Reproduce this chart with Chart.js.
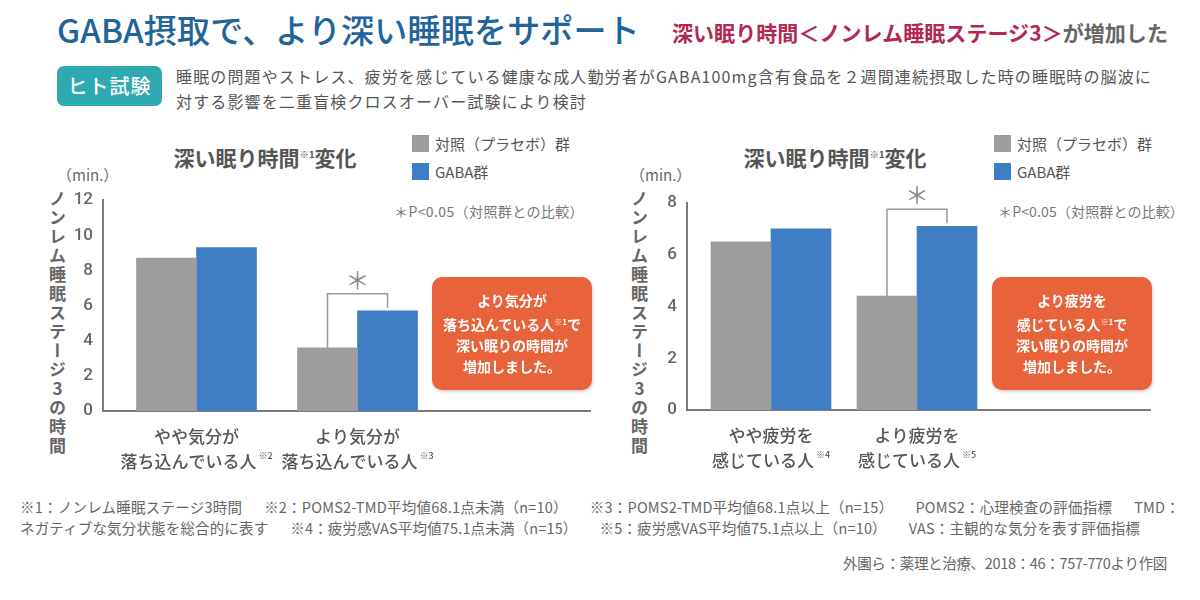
<!DOCTYPE html>
<html><head><meta charset="utf-8">
<script src="https://cdn.jsdelivr.net/npm/chart.js@4.4.1/dist/chart.umd.min.js"></script>
<style>
html,body{margin:0;padding:0;}
body{width:1200px;height:600px;background:#fff;position:relative;overflow:hidden;font-family:"Noto Sans CJK JP","Noto Sans",sans-serif;}
.abs{position:absolute;white-space:nowrap;line-height:1;}
.sup{font-size:0.45em;vertical-align:0.9em;}
canvas{position:absolute;}
.sq{position:absolute;width:17px;height:17px;}
.box{position:absolute;width:160px;height:113px;background:#e8623b;border-radius:10px;box-shadow:1px 2px 3px rgba(0,0,0,0.18);color:#fff;font-size:14px;font-weight:700;line-height:21px;text-align:center;display:flex;flex-direction:column;justify-content:center;}
.vt{position:absolute;writing-mode:vertical-rl;text-orientation:upright;font-size:17px;font-weight:700;color:#666;line-height:1;white-space:nowrap;}
.fn{position:absolute;white-space:nowrap;line-height:1;font-size:14.5px;color:#666;}
.fn span + span{margin-left:22px;}
</style>
</head><body>

<div class="abs fit" style="left:57px;top:13px;font-size:33px;color:#22649a;font-weight:500;" data-w="583">GABA摂取で、より深い睡眠をサポート</div>
<div class="abs fit" style="left:672px;top:22px;font-size:21px;font-weight:700;" data-w="496"><span style="color:#b3284f">深い眠り時間＜ノンレム睡眠ステージ3＞</span><span style="color:#666">が増加した</span></div>

<div class="abs" style="left:57px;top:66px;width:105px;height:40px;background:#2ea8b1;border-radius:7px;color:#fff;font-size:20px;font-weight:500;display:flex;align-items:center;justify-content:center;letter-spacing:1px;">ヒト試験</div>
<div class="abs" id="desc1" style="left:176px;top:68px;font-size:16px;color:#555;">睡眠の問題やストレス、疲労を感じている健康な成人勤労者がGABA100mg含有食品を２週間連続摂取した時の睡眠時の脳波に</div>
<div class="abs" id="desc2" style="left:176px;top:93px;font-size:16px;color:#555;">対する影響を二重盲検クロスオーバー試験により検討</div>

<!-- left panel texts -->
<div class="abs" style="left:265px;top:147px;transform:translateX(-50%);font-size:21px;font-weight:700;color:#555;">深い眠り時間<span class="sup">※1</span>変化</div>
<div class="abs" style="left:57px;top:167px;font-size:15px;color:#666;">（min.）</div>
<div class="sq" style="left:412px;top:135px;background:#9d9d9d"></div>
<div class="abs" id="lgA1" style="left:435px;top:136px;font-size:15px;color:#555;"></div>
<div class="sq" style="left:412px;top:163px;background:#3f7dc5"></div>
<div class="abs" id="lgA2" style="left:435px;top:164px;font-size:15px;color:#555;"></div>
<div class="abs fit" style="left:394px;top:204px;font-size:14px;color:#777;" data-w="190">＊P&lt;0.05（対照群との比較）</div>
<div class="vt fitv" style="left:49px;top:190px;" data-h="266">ノンレム睡眠ステージ3の時間</div>

<!-- right panel texts -->
<div class="abs" style="left:835px;top:147px;transform:translateX(-50%);font-size:21px;font-weight:700;color:#555;">深い眠り時間<span class="sup">※1</span>変化</div>
<div class="abs" style="left:630px;top:167px;font-size:15px;color:#666;">（min.）</div>
<div class="sq" style="left:994px;top:135px;background:#9d9d9d"></div>
<div class="abs" id="lgB1" style="left:1017px;top:136px;font-size:15px;color:#555;"></div>
<div class="sq" style="left:994px;top:163px;background:#3f7dc5"></div>
<div class="abs" id="lgB2" style="left:1017px;top:164px;font-size:15px;color:#555;"></div>
<div class="abs fit" style="left:998px;top:204px;font-size:14px;color:#777;" data-w="186">＊P&lt;0.05（対照群との比較）</div>
<div class="vt fitv" style="left:631px;top:190px;" data-h="266">ノンレム睡眠ステージ3の時間</div>

<canvas id="chartA" width="560" height="300" style="left:40px;top:180px;"></canvas>
<canvas id="chartB" width="560" height="300" style="left:620px;top:180px;"></canvas>

<div class="box" style="left:432px;top:277px;"><div>より気分が</div><div>落ち込んでいる人<span class="sup" style="font-size:8px;vertical-align:5px">※1</span>で</div><div>深い眠りの時間が</div><div>増加しました。</div></div>
<div class="box" style="left:992px;top:277px;"><div>より疲労を</div><div>感じている人<span class="sup" style="font-size:8px;vertical-align:5px">※1</span>で</div><div>深い眠りの時間が</div><div>増加しました。</div></div>

<div class="fn fit" style="left:20px;top:500px;" data-w="1160"><span>※1：ノンレム睡眠ステージ3時間</span><span>※2：POMS2-TMD平均値68.1点未満（n=10）</span><span>※3：POMS2-TMD平均値68.1点以上（n=15）</span><span>POMS2：心理検査の評価指標</span><span>TMD：</span></div>
<div class="fn fit" style="left:20px;top:521px;" data-w="1120"><span>ネガティブな気分状態を総合的に表す</span><span>※4：疲労感VAS平均値75.1点未満（n=15）</span><span>※5：疲労感VAS平均値75.1点以上（n=10）</span><span>VAS：主観的な気分を表す評価指標</span></div>
<div class="fn fit" style="left:843px;top:556px;" data-w="324">外園ら：薬理と治療、2018：46：757-770より作図</div>

<script>
// ---- data ----
const seriesNames = ['対照（プラセボ）群', 'GABA群'];

const moodLine1 = ['やや気分が', 'より気分が'];
const moodLine2 = ['落ち込んでいる人', '落ち込んでいる人'];
const moodNotes = ['※2', '※3'];
const moodPlacebo = [8.7, 3.6];
const moodGaba = [9.3, 5.7];
const moodSignificant = [false, true];
const moodTicks = [0, 2, 4, 6, 8, 10, 12];

const fatigueLine1 = ['やや疲労を', 'より疲労を'];
const fatigueLine2 = ['感じている人', '感じている人'];
const fatigueNotes = ['※4', '※5'];
const fatiguePlacebo = [6.5, 4.4];
const fatigueGaba = [7.0, 7.1];
const fatigueSignificant = [false, true];
const fatigueTicks = [0, 2, 4, 6, 8];

// ---- legends ----
document.getElementById('lgA1').textContent = seriesNames[0];
document.getElementById('lgA2').textContent = seriesNames[1];
document.getElementById('lgB1').textContent = seriesNames[0];
document.getElementById('lgB2').textContent = seriesNames[1];

// ---- text fitting ----
function fitEl(el, target, vertical) {
  const n = [...el.textContent].length;
  const r = el.getBoundingClientRect();
  const cur = vertical ? r.height : r.width;
  el.style.letterSpacing = ((target - cur) / n) + 'px';
}
document.querySelectorAll('.fit').forEach(el => fitEl(el, +el.dataset.w, false));
document.querySelectorAll('.fitv').forEach(el => fitEl(el, +el.dataset.h, true));
(function(){
  const d1 = document.getElementById('desc1');
  fitEl(d1, 976, false);
  document.getElementById('desc2').style.letterSpacing = d1.style.letterSpacing;
})();

const FONT = '"Noto Sans CJK JP", "Noto Sans", sans-serif';
const GRAY = '#9d9d9d', BLUE = '#3f7dc5', AXIS = '#7a7a7a';

function makeChart(id, cfg) {
  const positions = cfg.placebo.map((_, i) => i + 1);
  const deco = {
    id: 'deco',
    afterDraw(chart) {
      const ctx = chart.ctx, xs = chart.scales.x, area = chart.chartArea;
      ctx.save();
      ctx.fillStyle = '#555';
      ctx.textBaseline = 'middle';
      positions.forEach((p, i) => {
        const x = xs.getPixelForValue(p);
        ctx.font = '500 17px ' + FONT;
        ctx.textAlign = 'center';
        ctx.fillText(cfg.line1[i], x, area.bottom + 26);
        const w1 = ctx.measureText(cfg.line2[i]).width;
        ctx.font = '500 9px ' + FONT;
        const w2 = ctx.measureText(cfg.notes[i]).width;
        const start = x - (w1 + w2 + 2) / 2;
        ctx.textAlign = 'left';
        ctx.font = '500 17px ' + FONT;
        ctx.fillText(cfg.line2[i], start, area.bottom + 51);
        ctx.font = '500 9px ' + FONT;
        ctx.fillText(cfg.notes[i], start + w1 + 2, area.bottom + 45);
      });
      const m0 = chart.getDatasetMeta(0), m1 = chart.getDatasetMeta(1);
      cfg.sig.forEach((s, i) => {
        if (!s) return;
        const g = m0.data[i], b = m1.data[i];
        const top = Math.min(g.y, b.y) - 17;
        ctx.strokeStyle = '#9a9a9a';
        ctx.lineWidth = 1.5;
        ctx.beginPath();
        ctx.moveTo(g.x, g.y);
        ctx.lineTo(g.x, top);
        ctx.lineTo(b.x, top);
        ctx.lineTo(b.x, b.y - 3);
        ctx.stroke();
        ctx.fillStyle = '#888';
        ctx.font = '24px ' + FONT;
        ctx.textAlign = 'center';
        ctx.fillText('＊', (g.x + b.x) / 2, top - 14);
      });
      ctx.restore();
    }
  };
  return new Chart(document.getElementById(id), {
    type: 'bar',
    data: {
      datasets: [
        { label: seriesNames[0], data: cfg.placebo.map((v, i) => ({ x: positions[i], y: v })), backgroundColor: GRAY, barThickness: 60, borderWidth: 0 },
        { label: seriesNames[1], data: cfg.gaba.map((v, i) => ({ x: positions[i], y: v })), backgroundColor: BLUE, barThickness: 60, borderWidth: 0 }
      ]
    },
    options: {
      responsive: false,
      animation: false,
      devicePixelRatio: 1,
      layout: { padding: cfg.padding },
      plugins: { legend: { display: false }, tooltip: { enabled: false } },
      scales: {
        x: {
          type: 'linear', offset: false, min: cfg.xMin, max: cfg.xMax,
          grid: { display: false, drawTicks: false },
          border: { display: true, color: AXIS, width: 2 },
          ticks: { display: false },
          afterFit(s) { s.height = 0; }
        },
        y: {
          min: 0, max: cfg.ticks[cfg.ticks.length - 1],
          afterBuildTicks(s) { s.ticks = cfg.ticks.map(v => ({ value: v })); },
          grid: { display: false, drawTicks: false },
          border: { display: true, color: AXIS, width: 2 },
          ticks: { color: '#666', padding: 10, font: { family: 'Roboto', size: 17, weight: '500' } },
          afterFit(s) { s.width = cfg.yWidth; }
        }
      }
    },
    plugins: [deco]
  });
}

makeChart('chartA', {
  placebo: moodPlacebo, gaba: moodGaba, sig: moodSignificant, ticks: moodTicks,
  line1: moodLine1, line2: moodLine2, notes: moodNotes,
  padding: { top: 20, right: 10, bottom: 69, left: 0 }, yWidth: 63,
  xMin: 0.4193, xMax: 3.444
});
makeChart('chartB', {
  placebo: fatiguePlacebo, gaba: fatigueGaba, sig: fatigueSignificant, ticks: fatigueTicks,
  line1: fatigueLine1, line2: fatigueLine2, notes: fatigueNotes,
  padding: { top: 23, right: 30, bottom: 70, left: 0 }, yWidth: 67,
  xMin: 0.4247, xMax: 3.596
});
</script>
</body></html>
